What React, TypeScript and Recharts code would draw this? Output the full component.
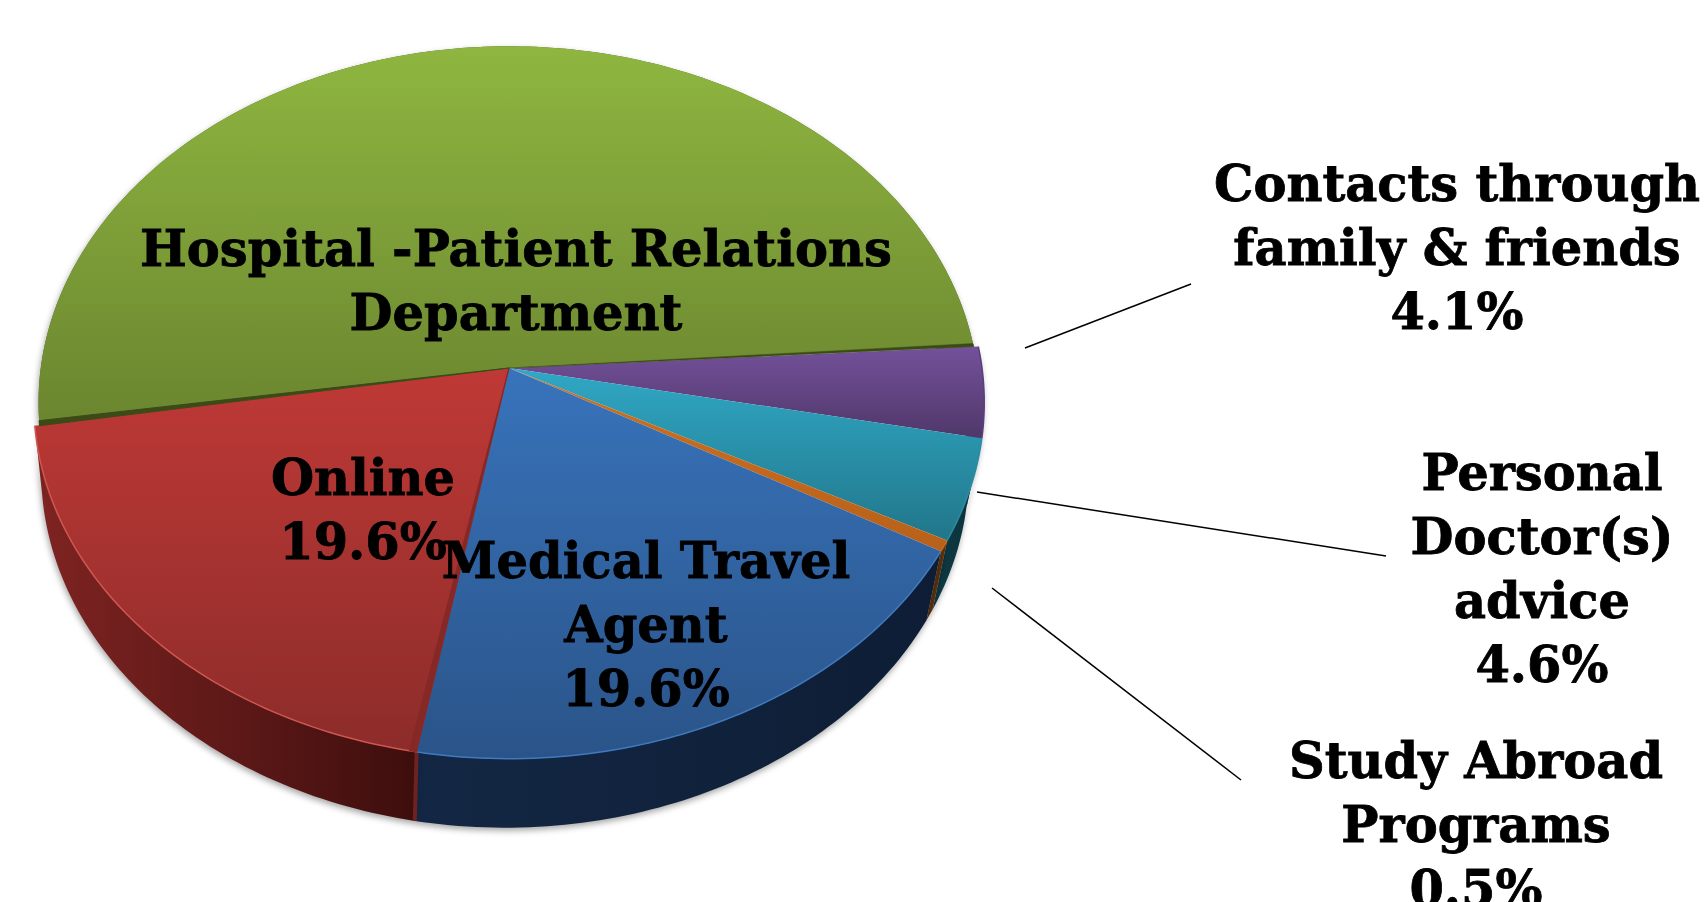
import { Cell, Pie, PieChart } from "recharts";

const categories = [
  "Contacts through family & friends",
  "Personal Doctor(s) advice",
  "Study Abroad Programs",
  "Medical Travel Agent",
  "Online",
  "Hospital -Patient Relations Department",
];
const shares = [4.1, 4.6, 0.5, 19.6, 19.6, 51.6];
const rows = categories.map((name, i) => ({ name, share: shares[i] }));

const topFrom = ["#74519b", "#30a8c6", "#d0701f", "#3873bb", "#bf3936", "#8fb640"];
const topTo = ["#4f3769", "#217689", "#b8611a", "#2a5489", "#8c2c2a", "#6a852f"];
const sideFrom = ["#3d2a55", "#0f3b45", "#5c300c", "#132744", "#7f2422", "#4f6423"];
const sideTo = ["#3d2a55", "#0c3039", "#5c300c", "#0e1d35", "#3d0e0d", "#4f6423"];
const rimColor = ["#5b3f7c", "#2c8ba3", "#c96a1c", "#3f79bf", "#cf5650", "none"];
const wallColor = ["none", "none", "none", "none", "#862826", "#3c4a17"];
const widthScale = [1, 1, 1, 1, 1, 0.99];

// leader lines and labels, [x1, y1, x2, y2]
const leaders = [
  [1025, 348, 1191, 284],
  [977, 492, 1386, 556],
  [992, 588, 1241, 780],
];
const labelLines = [
  ["Hospital -Patient Relations", "Department"],
  ["Online", "19.6%"],
  ["Medical Travel", "Agent", "19.6%"],
  ["Contacts through", "family & friends", "4.1%"],
  ["Personal", "Doctor(s)", "advice", "4.6%"],
  ["Study Abroad", "Programs", "0.5%"],
];
const labelX = [516, 363, 646, 1457, 1542, 1476];
const labelY = [266, 495, 578, 201, 490, 778];

const RAD = Math.PI / 180;
const TILT = 0.746;
const PERSPECTIVE = 0.0968;
const DEPTH = 69;
const FLOOR_SCALE = 0.976;
const FLOOR_SHIFT = -4;

// tilted disc: recharts angle -> screen point
function project(cx: number, cy: number, r: number, angle: number) {
  const u = Math.cos(angle * RAD);
  const v = -Math.sin(angle * RAD);
  const w = 1 - PERSPECTIVE * v;
  return { x: cx + (r * u) / w, y: cy + (r * TILT * v) / w };
}

function arc(cx: number, cy: number, r: number, a0: number, a1: number, xScale: number) {
  const steps = Math.max(2, Math.ceil(Math.abs(a1 - a0)));
  const pts = [];
  for (let i = 0; i <= steps; i++) {
    const p = project(cx, cy, r, a0 + ((a1 - a0) * i) / steps);
    pts.push({ x: cx + xScale * (p.x - cx), y: p.y });
  }
  return pts;
}

const toPath = (pts: { x: number; y: number }[]) =>
  pts.map((p, i) => `${i ? "L" : "M"}${p.x.toFixed(2)} ${p.y.toFixed(2)}`).join(" ");

function SideWall(props: any) {
  const { cx, cy, outerRadius, startAngle, endAngle, index } = props;
  const upper = arc(cx, cy, outerRadius, startAngle, endAngle, widthScale[index]);
  const lower = upper.map((p) => ({ x: cx + FLOOR_SHIFT + FLOOR_SCALE * (p.x - cx), y: p.y + DEPTH })).reverse();
  const seamEnd = lower[lower.length - 1];
  return (
    <g>
      <path
        d={toPath([...upper, ...lower]) + " Z"}
        fill={`url(#side${index})`}
        style={{ filter: "drop-shadow(-1px 3px 3px rgba(0,0,0,0.35))" }}
      />
      {index === 4 && (
        <path d={toPath([upper[0], seamEnd])} stroke="#6e2321" strokeWidth={4} fill="none" />
      )}
    </g>
  );
}

function TopFace(props: any) {
  const { cx, cy, outerRadius, startAngle, endAngle, index } = props;
  const rim = arc(cx, cy, outerRadius, startAngle, endAngle, widthScale[index]);
  const wedge = (a0: number, a1: number) =>
    toPath([{ x: cx, y: cy }, ...arc(cx, cy, outerRadius, a0, a1, widthScale[index])]) + " Z";
  const dir = Math.sign(endAngle - startAngle);
  const wall = wallColor[index];
  return (
    <g>
      <path d={toPath([{ x: cx, y: cy }, ...rim]) + " Z"} fill={`url(#top${index})`} />
      {rimColor[index] !== "none" && <path d={toPath(rim)} fill="none" stroke={rimColor[index]} strokeWidth={1.5} />}
      {wall !== "none" && (
        <path d={wedge(startAngle, startAngle + dir * 0.8)} fill={wall} stroke={wall} strokeWidth={1} />
      )}
      {index === 5 && <path d={wedge(endAngle, endAngle - dir * 0.5)} fill={wall} stroke={wall} strokeWidth={0.5} />}
    </g>
  );
}

const pieProps = {
  data: rows,
  dataKey: "share",
  nameKey: "name",
  cx: 509,
  cy: 368,
  outerRadius: 473,
  startAngle: 3.5,
  endAngle: -356.5,
  stroke: "none",
  isAnimationActive: false,
  label: false,
  labelLine: false,
};

export default function App() {
  return (
    <div style={{ position: "absolute", left: 0, top: 0, width: 1706, height: 902, overflow: "hidden", background: "#fff" }}>
      <PieChart width={1706} height={902} margin={{ top: 0, right: 0, bottom: 0, left: 0 }}>
        <defs>
          {rows.map((_, i) => (
            <linearGradient key={`top${i}`} id={`top${i}`} x1="0" y1="0" x2="0" y2="1">
              <stop offset="0%" stopColor={topFrom[i]} />
              <stop offset="100%" stopColor={topTo[i]} />
            </linearGradient>
          ))}
          {rows.map((_, i) => (
            <linearGradient key={`side${i}`} id={`side${i}`} x1="0" y1="0" x2="1" y2="0">
              <stop offset="0%" stopColor={sideFrom[i]} />
              <stop offset="100%" stopColor={sideTo[i]} />
            </linearGradient>
          ))}
        </defs>
        <Pie {...pieProps} shape={SideWall}>
          {rows.map((r) => (
            <Cell key={r.name} />
          ))}
        </Pie>
        <Pie {...pieProps} shape={TopFace}>
          {rows.map((r) => (
            <Cell key={r.name} />
          ))}
        </Pie>
      </PieChart>
      <svg width={1706} height={902} style={{ position: "absolute", left: 0, top: 0, pointerEvents: "none" }}>
        {leaders.map((l, i) => (
          <line key={i} x1={l[0]} y1={l[1]} x2={l[2]} y2={l[3]} stroke="#000" strokeWidth={1.5} />
        ))}
        {labelLines.map((lines, i) => (
          <text
            key={i}
            textAnchor="middle"
            fontFamily="'DejaVu Serif', serif"
            fontWeight="bold"
            fontSize={49.5}
            fill="#000"
            stroke="#000"
            strokeWidth={0.8}
          >
            {lines.map((t, j) => (
              <tspan key={j} x={labelX[i]} y={labelY[i] + j * 64}>
                {t}
              </tspan>
            ))}
          </text>
        ))}
      </svg>
    </div>
  );
}
